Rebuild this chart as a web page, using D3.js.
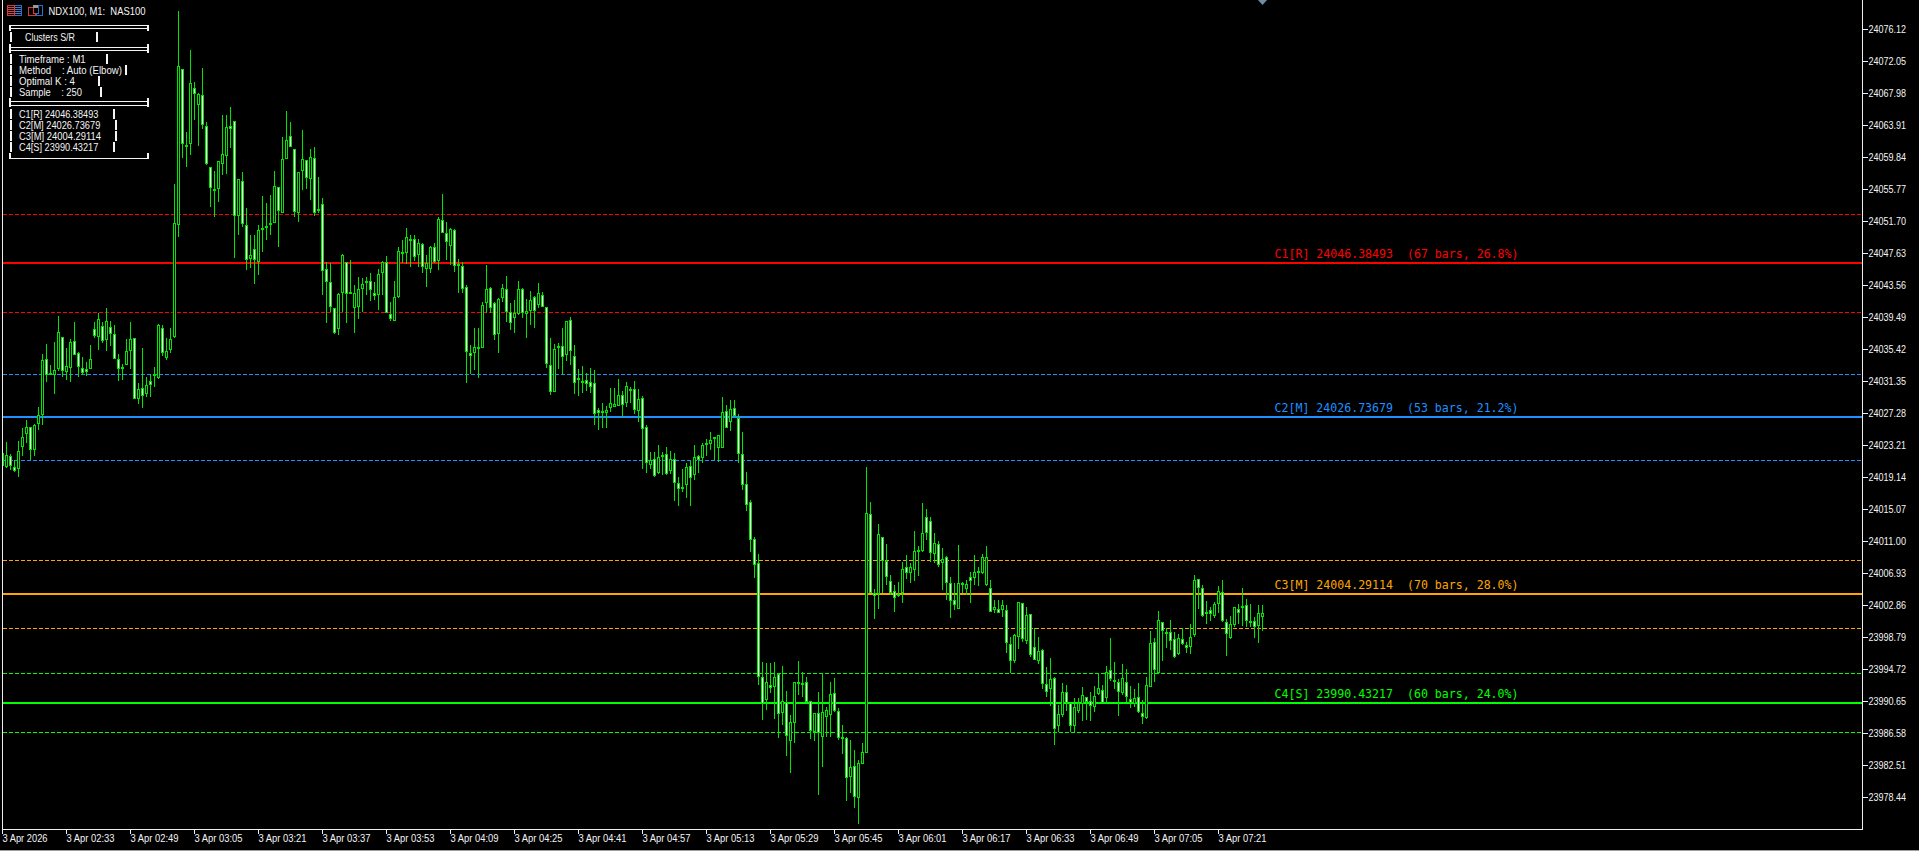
<!DOCTYPE html>
<html>
<head>
<meta charset="utf-8">
<script src="https://cdn.jsdelivr.net/npm/d3@7"></script>
<style>
html,body{margin:0;padding:0;background:#000;overflow:hidden}
svg{display:block}
text{white-space:pre}
</style>
</head>
<body>
<svg id="chart" width="1919" height="851"></svg>
<script>
// Prices are quoted in points above this base.
const basePrice=24000;
const highs=[22.25,23.65,22.12,21.36,23.77,25.43,26.45,25.56,25.94,28.10,
34.84,36.11,33.44,36.37,39.67,37.00,35.60,36.75,38.91,35.09,
34.46,33.83,35.98,38.91,40.06,38.91,40.69,39.04,38.53,34.84,
33.57,36.75,38.91,36.88,31.15,35.60,31.92,32.17,33.19,38.66,
38.53,36.88,38.15,56.46,78.47,71.09,63.08,73.51,69.44,68.04,
71.22,64.35,58.63,58.12,59.39,65.24,65.24,66.26,64.48,57.10,
58.00,53.41,49.98,49.98,51.25,54.94,54.05,55.07,58.12,56.08,
62.44,65.75,64.35,60.92,58.00,63.33,59.52,60.92,61.17,57.36,
54.68,46.54,46.42,40.69,42.60,47.56,46.54,46.80,43.62,44.63,
44.51,44.63,45.14,44.00,45.65,46.67,47.31,41.46,44.13,48.45,
49.34,50.87,49.98,49.98,49.47,48.96,47.43,48.58,48.96,52.27,
55.19,51.63,50.87,50.74,46.93,46.54,43.62,35.99,38.15,38.15,
41.46,46.16,43.36,41.46,41.97,43.74,44.76,41.33,41.71,44.13,
43.24,41.84,42.85,42.22,43.87,42.73,40.82,36.88,36.11,36.24,
38.15,39.04,39.55,35.99,32.94,33.31,32.42,33.06,32.81,27.97,
28.61,28.23,30.52,30.52,31.66,30.14,31.28,30.65,31.41,30.39,
29.50,25.81,22.38,22.38,23.27,22.38,23.01,22.50,22.25,19.20,
20.21,20.98,21.23,23.27,21.99,23.52,24.03,24.92,24.28,24.54,
29.37,28.35,28.99,28.99,27.21,24.92,19.83,16.27,11.56,9.40,
-4.34,-4.46,-4.46,-4.34,-5.74,-4.85,-8.03,-11.08,-6.88,-4.21,
-5.61,-6.24,-9.30,-10.82,-8.15,-5.74,-10.06,-6.88,-6.37,-10.19,
-12.35,-13.87,-14.26,-15.53,-16.80,-14.64,20.47,16.02,4.95,13.22,
11.56,10.67,6.73,5.46,5.84,8.38,9.27,8.26,12.33,10.42,
15.89,15.13,14.11,12.07,11.05,10.17,9.15,6.48,5.71,10.55,
5.84,6.09,7.11,9.27,7.75,9.40,10.42,6.09,3.55,3.55,
3.55,2.91,-1.15,-0.77,3.30,3.17,2.66,1.77,-0.01,-1.15,
-2.68,-4.97,-3.83,-6.24,-9.81,-7.01,-7.26,-9.55,-8.92,-8.92,
-7.52,-8.79,-8.15,-7.39,-5.74,-7.26,-4.85,-1.28,-4.34,-6.50,
-4.59,-5.23,-7.39,-7.77,-7.01,-9.17,-6.24,-0.39,-1.28,2.15,
0.75,-0.01,1.01,-0.52,-0.77,-0.01,-1.79,0.50,6.73,6.22,
5.46,3.42,2.66,3.30,5.33,6.09,1.13,1.51,2.66,3.04,
5.07,3.68,3.04,1.39,2.91,2.91];
const lows=[20.60,20.34,20.09,19.83,19.20,21.87,23.52,21.36,21.87,25.17,
25.81,31.28,32.17,29.75,32.68,31.92,31.53,31.28,34.71,31.92,
32.17,32.04,32.94,36.87,35.35,36.24,35.22,35.86,34.21,31.41,
31.53,33.44,32.94,29.12,28.48,27.97,29.37,29.37,30.65,31.66,
34.59,34.08,34.97,36.88,49.72,59.77,58.63,60.15,64.61,61.30,
63.46,58.88,53.54,52.27,54.18,57.61,57.74,61.05,47.05,49.98,
51.00,45.53,45.78,43.74,44.89,47.82,49.34,49.98,51.50,48.45,
52.78,59.65,61.17,52.27,51.63,55.70,55.83,54.43,52.40,52.78,
42.34,38.78,40.18,37.38,37.26,40.18,38.78,42.47,37.51,39.29,
40.18,42.35,41.58,41.71,40.44,42.35,40.06,39.04,39.04,41.97,
46.42,46.29,45.91,46.67,45.91,45.14,43.36,45.14,46.42,45.53,
50.23,46.80,46.16,45.27,42.60,42.60,31.15,32.30,32.81,31.79,
35.60,40.06,40.06,36.62,34.97,41.46,38.91,37.89,37.51,39.80,
39.42,36.88,38.53,38.15,40.69,40.82,33.06,29.63,30.01,32.94,
32.17,33.95,33.44,29.75,29.50,29.88,30.14,29.88,25.81,25.17,
25.43,25.43,27.46,28.10,28.23,26.83,28.10,28.61,27.21,26.19,
20.21,19.71,20.21,19.20,19.58,19.45,19.45,19.58,16.14,15.51,
17.29,16.52,15.51,18.81,19.71,20.98,21.87,22.63,21.36,21.10,
22.88,25.43,25.05,26.83,20.98,17.54,14.87,9.66,6.35,-7.26,
-11.71,-10.44,-8.28,-11.59,-13.98,-12.35,-16.29,-18.46,-14.64,-8.53,
-8.79,-9.55,-14.13,-14.39,-21.25,-17.69,-13.87,-13.87,-10.70,-14.26,
-16.04,-22.02,-20.99,-22.91,-24.94,-17.31,-15.91,4.44,1.13,2.41,
4.44,5.46,4.18,2.03,3.93,3.17,6.22,5.71,5.97,6.60,
9.66,11.18,8.39,8.26,7.75,4.82,3.55,1.26,2.28,2.41,
4.44,4.18,3.17,5.46,5.33,6.86,5.33,2.02,1.90,1.90,
1.39,-3.19,-5.74,-4.46,-2.68,-1.79,-2.05,-3.70,-4.08,-4.59,
-7.77,-8.79,-9.93,-14.89,-13.24,-11.33,-10.57,-13.24,-13.24,-10.82,
-11.84,-11.71,-11.84,-10.70,-8.53,-9.55,-9.55,-6.75,-7.77,-11.21,
-8.53,-9.42,-10.19,-10.06,-10.82,-12.22,-11.59,-7.52,-6.88,-5.74,
-4.21,-2.56,-2.81,-3.83,-3.44,-2.17,-3.19,-3.32,-1.15,2.41,
1.39,0.50,0.88,1.26,1.90,0.75,-3.57,-1.41,0.12,0.50,
0.24,0.12,0.12,-1.28,-1.92,-0.39];
const opens=[20.60,20.47,21.87,20.47,20.22,23.01,24.67,25.56,22.63,25.94,
27.08,34.21,32.43,32.17,32.94,37.00,32.55,33.06,36.49,34.97,
33.06,32.94,32.94,38.02,37.00,38.40,36.62,38.28,37.39,34.21,
33.19,33.44,35.22,36.88,29.12,30.52,29.75,31.41,32.30,31.79,
38.15,34.33,35.35,37.00,51.25,71.09,61.43,61.55,68.68,66.51,
67.79,63.84,58.63,55.83,55.83,59.01,60.03,63.84,64.48,52.39,
56.85,51.25,46.93,48.20,46.54,50.87,51.12,51.50,51.50,56.08,
52.78,59.65,62.57,60.92,52.78,58.12,59.52,57.10,59.77,53.28,
53.92,45.65,44.00,40.69,38.02,42.60,46.54,42.73,40.69,40.82,
43.11,43.87,44.13,42.60,42.35,45.14,46.54,39.93,39.04,42.09,
47.82,47.69,49.47,49.47,47.43,48.83,45.65,45.65,48.45,46.67,
51.89,50.23,48.58,50.61,46.29,46.03,43.36,34.97,34.97,35.48,
35.60,41.33,43.24,41.33,37.39,41.97,43.11,40.18,39.42,39.93,
43.11,39.93,40.31,42.09,41.07,42.35,40.82,33.44,30.01,35.86,
35.86,34.72,39.17,34.59,31.79,31.41,31.53,31.28,31.15,27.72,
27.59,27.34,27.97,28.10,28.23,29.63,28.61,30.39,30.39,27.59,
29.25,25.56,20.72,21.49,19.71,22.00,22.12,19.96,21.49,18.43,
17.92,18.18,20.60,19.45,21.87,21.61,23.52,23.39,24.28,22.88,
22.88,27.59,26.19,27.97,26.70,22.12,18.31,16.02,11.31,8.26,
-6.24,-9.17,-7.26,-7.52,-5.86,-10.82,-9.42,-14.39,-12.10,-6.88,
-7.01,-6.88,-9.30,-13.24,-10.82,-13.87,-11.33,-11.08,-8.28,-10.57,
-13.87,-14.00,-18.96,-17.57,-21.64,-17.31,-15.91,14.49,4.44,4.31,
11.56,8.51,5.97,4.70,4.31,4.44,7.75,6.99,7.37,9.91,
9.78,14.11,13.60,9.40,10.67,8.26,9.02,5.71,3.55,2.41,
5.71,4.95,6.48,6.35,7.24,6.99,5.46,5.07,2.28,2.40,
2.28,2.28,-2.05,-4.21,-1.15,3.17,-1.66,1.77,-2.43,-4.21,
-2.81,-7.13,-7.77,-6.37,-12.48,-11.08,-8.15,-9.55,-12.48,-10.57,
-9.68,-8.79,-9.30,-10.06,-8.41,-7.90,-8.92,-5.35,-6.63,-6.88,
-8.28,-6.88,-9.04,-9.68,-8.79,-10.82,-11.46,-7.52,-1.79,-5.74,
0.75,-0.52,-0.52,-1.41,-3.32,-1.41,-2.17,-2.43,-0.90,6.22,
5.07,2.02,2.28,1.51,3.04,4.57,0.75,-1.28,0.37,2.40,
2.79,2.91,0.88,0.88,0.24,1.39];
const closes=[22.25,21.99,20.60,19.96,22.50,24.28,25.56,22.63,25.81,27.08,
34.08,32.17,32.17,32.81,37.64,32.68,33.31,36.37,34.71,33.19,
32.43,32.55,34.21,37.13,39.29,36.50,39.04,37.39,34.21,32.94,
33.06,35.22,36.75,29.12,30.39,29.50,30.90,30.90,32.17,38.53,
34.97,35.22,36.75,51.50,71.47,61.55,61.30,69.31,67.91,67.91,
63.97,59.01,55.96,55.70,59.39,60.28,63.72,63.46,52.39,57.10,
51.38,46.80,47.43,46.80,50.61,50.74,51.00,51.38,56.21,53.03,
59.65,62.06,61.17,52.90,58.00,59.65,57.23,59.90,52.78,53.03,
45.40,44.00,40.82,37.51,42.47,47.43,42.47,42.60,42.60,43.11,
43.75,44.13,42.98,42.22,45.02,46.54,40.06,39.29,42.09,47.94,
47.69,49.72,49.34,47.18,48.96,45.91,46.42,48.45,46.54,52.01,
50.23,49.09,50.74,46.03,46.16,43.11,35.10,34.59,35.73,35.73,
41.07,43.11,40.69,37.26,41.84,43.24,40.18,38.78,40.06,43.11,
40.06,40.31,41.71,40.31,42.60,40.82,33.57,30.01,35.48,35.73,
34.46,39.04,35.22,31.15,31.53,31.15,31.03,30.65,27.21,27.34,
27.46,27.72,28.61,28.48,29.63,28.35,30.77,30.14,27.72,29.12,
25.30,20.98,21.36,19.32,21.74,21.74,19.58,21.49,18.43,17.67,
17.80,20.47,19.07,21.74,21.36,23.27,23.39,23.90,24.16,24.54,
27.46,25.43,27.84,26.95,22.12,18.18,15.63,11.18,8.00,-6.24,
-9.68,-6.88,-7.64,-6.24,-10.95,-9.29,-13.75,-11.97,-6.88,-7.01,
-7.13,-9.42,-13.11,-10.82,-13.37,-10.70,-10.44,-8.41,-10.57,-14.00,
-14.13,-19.09,-17.69,-21.51,-17.18,-15.78,14.62,4.44,4.06,11.94,
8.51,6.48,4.44,3.80,4.18,7.50,6.99,7.75,9.78,9.78,
12.07,12.07,9.53,10.80,8.00,8.76,5.71,3.42,2.91,5.71,
5.46,5.59,5.97,7.11,7.11,9.02,9.02,2.02,2.66,1.90,
2.91,-1.92,-4.21,-0.90,3.30,-1.41,1.64,-3.45,-4.08,-2.94,
-7.13,-8.15,-6.50,-12.86,-10.95,-8.15,-9.55,-12.48,-10.06,-9.55,
-8.53,-9.42,-9.93,-8.66,-7.64,-9.55,-5.61,-6.50,-6.88,-8.15,
-6.37,-8.79,-9.55,-8.92,-10.70,-11.33,-7.26,-1.92,-5.35,1.01,
-0.39,-0.65,-1.67,-3.70,-1.28,-2.05,-2.56,-1.15,6.09,5.07,
1.51,1.90,1.77,3.04,4.70,0.88,-0.77,0.50,2.66,1.90,
2.66,0.88,0.75,0.12,1.90,1.90];

const priceTicks=[24076.12,24072.05,24067.98,24063.91,24059.84,24055.77,24051.70,24047.63,24043.56,24039.49,24035.42,24031.35,24027.28,24023.21,24019.14,24015.07,24011.00,24006.93,24002.86,23998.79,23994.72,23990.65,23986.58,23982.51,23978.44];
const timeTicks=['3 Apr 2026','3 Apr 02:33','3 Apr 02:49','3 Apr 03:05','3 Apr 03:21','3 Apr 03:37','3 Apr 03:53','3 Apr 04:09','3 Apr 04:25','3 Apr 04:41','3 Apr 04:57','3 Apr 05:13','3 Apr 05:29','3 Apr 05:45','3 Apr 06:01','3 Apr 06:17','3 Apr 06:33','3 Apr 06:49','3 Apr 07:05','3 Apr 07:21'];

const clusterNames=['C1[R]','C2[M]','C3[M]','C4[S]'];
const clusterCentres=[24046.38493,24026.73679,24004.29114,23990.43217];
const clusterUpper=[24052.59,24032.23,24008.58,23994.20];
const clusterLower=[24040.12,24021.29,23999.93,23986.70];
const clusterBars=[67,53,70,60];
const clusterShares=[26.8,21.2,28.0,24.0];
const clusterColors=['#ff0000','#1e90ff','#ffa500','#00ff00'];

const panelTitle='Clusters S/R';
const panelInfo=['Timeframe : M1','Method    : Auto (Elbow)','Optimal K : 4','Sample    : 250'];
const chartTitle='NDX100, M1:  NAS100';

const W=1919,H=851,LEFT=2.5,RIGHT=1862.5,BOTTOM=829.5;
const GREEN='#00e600',FRAME='#f4f4f4';
const UI_FONT='"Liberation Sans",Arial,sans-serif',UI_SIZE=11.5;
const svg=d3.select('#chart');
svg.append('rect').attr('width',W).attr('height',H).attr('fill','#000');

const x=d3.scaleLinear().domain([0,highs.length-1]).range([LEFT,LEFT+4*(highs.length-1)]);
const y=d3.scaleLinear().domain([23978.44,24076.12]).range([797.5,29.5]);
const py=v=>y(basePrice+v);

svg.append('defs').append('clipPath').attr('id','plot').append('rect')
  .attr('x',LEFT).attr('y',0).attr('width',RIGHT-LEFT).attr('height',BOTTOM);

// Cluster levels (drawn under the candles)
const levels=svg.append('g').attr('shape-rendering','crispEdges').attr('clip-path','url(#plot)');
clusterCentres.forEach((c,i)=>{
  [clusterUpper[i],clusterLower[i]].forEach(v=>{
    const yy=Math.floor(y(v))+0.5;
    levels.append('line').attr('x1',LEFT).attr('x2',RIGHT).attr('y1',yy).attr('y2',yy)
      .attr('stroke',clusterColors[i]).attr('stroke-width',1).attr('stroke-dasharray','4,2');
  });
  const yc=Math.floor(y(c));
  levels.append('line').attr('x1',LEFT).attr('x2',RIGHT).attr('y1',yc).attr('y2',yc)
    .attr('stroke',clusterColors[i]).attr('stroke-width',2);
});

// Candles
const candles=svg.append('g').attr('shape-rendering','crispEdges').attr('clip-path','url(#plot)');
const idx=d3.range(highs.length);
candles.selectAll('line.wick').data(idx).join('line').attr('class','wick')
  .attr('x1',i=>x(i)).attr('x2',i=>x(i))
  .attr('y1',i=>Math.round(py(highs[i]))).attr('y2',i=>Math.round(py(lows[i])))
  .attr('stroke',GREEN).attr('stroke-width',1);
const bodyTop=i=>Math.round(py(Math.max(opens[i],closes[i])))+0.5;
const bodyBot=i=>Math.round(py(Math.min(opens[i],closes[i])))-0.5;
candles.selectAll('rect.body').data(idx).join('rect').attr('class','body')
  .attr('x',i=>x(i)-1).attr('width',2)
  .attr('y',bodyTop).attr('height',i=>Math.max(1,bodyBot(i)-bodyTop(i)))
  .attr('fill',i=>closes[i]>=opens[i]?'#000':'#fff')
  .attr('stroke',GREEN).attr('stroke-width',1);

// Cluster labels
svg.append('g').selectAll('text').data(clusterNames).join('text')
  .attr('x',1274.5).attr('y',(d,i)=>Math.floor(y(clusterCentres[i]))-5)
  .attr('fill',(d,i)=>clusterColors[i])
  .attr('font-family','"DejaVu Sans Mono",monospace').attr('font-size',11.6)
  .attr('textLength',244).attr('lengthAdjust','spacingAndGlyphs')
  .text((d,i)=>`${d} ${clusterCentres[i].toFixed(5)}  (${clusterBars[i]} bars, ${clusterShares[i].toFixed(1)}%)`);

// Frame
const frame=svg.append('g').attr('shape-rendering','crispEdges').attr('stroke','#eeeeee').attr('stroke-width',1);
frame.append('line').attr('x1',LEFT).attr('x2',LEFT).attr('y1',0).attr('y2',BOTTOM);
frame.append('line').attr('x1',RIGHT).attr('x2',RIGHT).attr('y1',0).attr('y2',BOTTOM);
frame.append('line').attr('x1',LEFT).attr('x2',RIGHT).attr('y1',BOTTOM).attr('y2',BOTTOM);
svg.append('line').attr('x1',0).attr('x2',W).attr('y1',850.5).attr('y2',850.5).attr('stroke','#a0a0a0').attr('shape-rendering','crispEdges');

// Axes
const yAxis=d3.axisRight(y).tickValues(priceTicks).tickFormat(d3.format('.2f')).tickSize(5).tickPadding(1).offset(0);
const gy=svg.append('g').attr('transform',`translate(${RIGHT},0)`).call(yAxis);
const xTicks=timeTicks.map((d,i)=>i*16);
const xAxis=d3.axisBottom(x).tickValues(xTicks).tickFormat((d,i)=>timeTicks[i]).tickSize(4).tickPadding(0).offset(0);
const gx=svg.append('g').attr('transform',`translate(0,${BOTTOM})`).call(xAxis);
[gy,gx].forEach(g=>{
  g.select('.domain').remove();
  g.attr('font-family',UI_FONT).attr('font-size',UI_SIZE);
  g.selectAll('line').attr('stroke','#eeeeee').attr('shape-rendering','crispEdges');
  g.selectAll('text').attr('fill',FRAME).attr('lengthAdjust','spacingAndGlyphs');
});
gy.selectAll('text').attr('textLength',37.5);
gx.selectAll('text').attr('text-anchor','start').attr('x',0).attr('y',12.5).attr('dy',0)
  .attr('textLength',(d,i)=>i===0?45:48);

// Marker above the newest bar
const mx=x(highs.length-1);
svg.append('path').attr('d',`M${mx-4.5},0H${mx+4.5}L${mx},5Z`).attr('fill','#6f8ba5');

// Title and icons
const panelText=(t,px,baseline,len)=>svg.append('text').attr('x',px).attr('y',baseline)
  .attr('fill',FRAME).attr('font-family',UI_FONT).attr('font-size',UI_SIZE)
  .attr('textLength',len).attr('lengthAdjust','spacingAndGlyphs').text(t);
panelText(chartTitle,48.5,14.5,97);
const icons=svg.append('g').attr('shape-rendering','crispEdges');
icons.append('rect').attr('x',7.5).attr('y',5.5).attr('width',14).attr('height',10).attr('fill','none').attr('stroke','#2a6fc0');
icons.append('rect').attr('x',7.5).attr('y',5.5).attr('width',7).attr('height',10).attr('fill','none').attr('stroke','#d83a3a');
[7.5,9.5,11.5,13.5].forEach(v=>{
  icons.append('line').attr('x1',8).attr('x2',14).attr('y1',v).attr('y2',v).attr('stroke','#e04040');
  icons.append('line').attr('x1',15).attr('x2',21).attr('y1',v).attr('y2',v).attr('stroke','#3a7fd8');
});
icons.append('path').attr('d','M28.5,7.5H33.5V13.5H35.5V15.5H28.5Z').attr('fill','none').attr('stroke','#d83a3a');
icons.append('path').attr('d','M38.5,5.5H42.5V15.5H36.5V13.5H38.5Z').attr('fill','none').attr('stroke','#2a6fc0');
icons.append('rect').attr('x',33).attr('y',5).attr('width',5).attr('height',3).attr('fill','#999');

// Info panel drawn as box rules
const box=svg.append('g').attr('fill',FRAME).attr('shape-rendering','crispEdges');
const hr=(yy,gap)=>{
  box.append('rect').attr('x',9).attr('y',yy).attr('width',140).attr('height',1);
  box.append('rect').attr('x',9).attr('y',yy+gap).attr('width',140).attr('height',1);
};
const cap=(y0,y1)=>{
  box.append('rect').attr('x',9).attr('y',y0).attr('width',2).attr('height',y1-y0);
  box.append('rect').attr('x',147).attr('y',y0).attr('width',2).attr('height',y1-y0);
};
const bar=(px,y0)=>box.append('rect').attr('x',px).attr('y',y0).attr('width',2).attr('height',10);
hr(25,3);cap(25,31);
hr(47,3);cap(44,53);
hr(101,4);cap(98,107);
box.append('rect').attr('x',9).attr('y',158).attr('width',140).attr('height',1);
cap(153,159);

const rowBase=[41,63,74,85,96,118,129,140,151];
const rowLeft=[25,19,19,19,19,19,19,19,19];
const rowLen=[50,66.7,103,56,63,79.3,81.3,82,79.3];
const rowBarRight=[96,106,125,98,100,113,115,115,113];
const panelRows=[panelTitle,...panelInfo,...clusterNames.map((n,i)=>`${n} ${clusterCentres[i].toFixed(5)}`)];
panelRows.forEach((t,i)=>{
  panelText(t,rowLeft[i],rowBase[i],rowLen[i]);
  bar(10,rowBase[i]-9);
  bar(rowBarRight[i],rowBase[i]-9);
});
</script>
</body>
</html>
